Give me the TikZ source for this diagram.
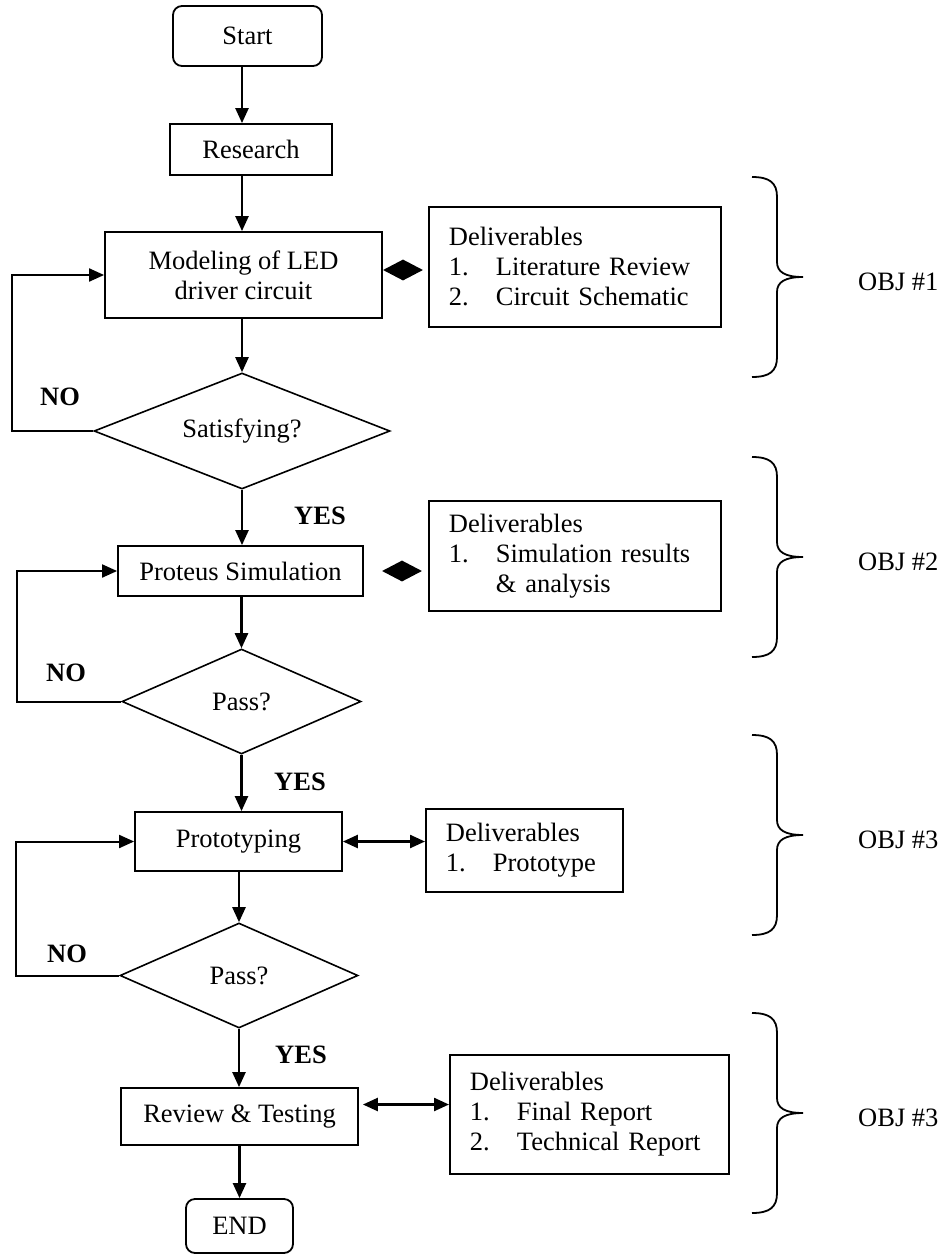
\documentclass[tikz,border=0pt]{standalone}
\usepackage{fontspec}
\setmainfont{Liberation Serif}
\usetikzlibrary{shapes.geometric,arrows.meta}
\begin{document}
\begin{tikzpicture}[x=1pt,y=-1pt,
  every node/.style={font=\fontsize{26.5}{30}\selectfont},
  box/.style={draw, line width=1.8pt, inner sep=0pt, align=center},
  rbox/.style={box, rounded corners=9pt},
  dec/.style={draw, diamond, line width=1.6pt, inner sep=0pt, aspect=2.5},
  deliv/.style={draw, line width=1.8pt, align=left, inner xsep=20pt, inner ysep=0pt, anchor=north west},
  arr/.style={line width=2.4pt, -{Triangle[length=15pt,width=13pt]}},
  darr/.style={line width=2.4pt, {Triangle[length=15pt,width=13pt]}-{Triangle[length=15pt,width=13pt]}},
  loopline/.style={line width=2pt, -{Triangle[length=15pt,width=13pt]}},
  lbl/.style={font=\fontsize{26.5}{30}\selectfont\bfseries, inner sep=0pt},
  objlbl/.style={anchor=west, inner sep=0pt},
  knot/.style={diamond, fill=black, inner sep=0pt, minimum width=40pt, minimum height=21pt, aspect=2},
  objbrace/.pic={
    \draw[line width=1.8pt] (-51,-100) .. controls (-33,-100) and (-26,-94) .. (-26,-80)
      -- (-26,-15) .. controls (-26,-5) and (-18,0) .. (0,0)
      .. controls (-18,0) and (-26,5) .. (-26,15)
      -- (-26,80) .. controls (-26,94) and (-33,100) .. (-51,100);
  }
]
\useasboundingbox (0,0) rectangle (947,1254);

% main flow
\node[rbox, minimum width=149pt, minimum height=60pt] (start) at (247.5,36) {Start};
\node[box, minimum width=162pt, minimum height=51pt] (research) at (251,149.5) {Research};
\node[box, minimum width=277pt, minimum height=86pt] (model) at (243.5,275) {Modeling of LED\\driver circuit};
\node[dec, minimum width=296pt, minimum height=116pt] (satis) at (242,431) {Satisfying?};
\node[box, minimum width=245pt, minimum height=50pt] (proteus) at (240.5,571) {Proteus Simulation};
\node[dec, minimum width=239pt, minimum height=105pt] (pass1) at (241.5,701.5) {Pass?};
\node[box, minimum width=207pt, minimum height=59pt] (proto) at (238.5,841.5) {Prototyping};
\node[dec, minimum width=238pt, minimum height=105pt] (pass2) at (239,975.5) {Pass?};
\node[box, minimum width=237pt, minimum height=57pt] (review) at (239.5,1116.5) {Review \& Testing};
\node[rbox, minimum width=107pt, minimum height=54pt] (fin) at (239.5,1226) {END};

% deliverables
\node[deliv, text width=252pt, minimum height=120pt] (d1) at (428,206)
  {Deliverables\\\makebox[47pt][l]{1.}Literature Review\\\makebox[47pt][l]{2.}Circuit Schematic};
\node[deliv, text width=252pt, minimum height=110pt] (d2) at (428,500)
  {Deliverables\\\makebox[47pt][l]{1.}Simulation results\\\hspace*{47pt}\& analysis};
\node[deliv, text width=157pt, minimum height=83pt] (d3) at (425,808)
  {Deliverables\\\makebox[47pt][l]{1.}Prototype};
\node[deliv, text width=239pt, minimum height=119pt] (d4) at (449,1054)
  {Deliverables\\\makebox[47pt][l]{1.}Final Report\\\makebox[47pt][l]{2.}Technical Report};

% diamond joints
\node[knot] (k1) at (403,270) {};
\node[knot] (k2) at (402,571) {};

% labels
\node[lbl] (yes1) at (320,516) {YES};
\node[lbl] (yes2) at (300,782) {YES};
\node[lbl] (yes3) at (301,1055) {YES};
\node[lbl] (no1) at (60,397) {NO};
\node[lbl] (no2) at (66,673) {NO};
\node[lbl] (no3) at (67,954) {NO};

% spine arrows
\coordinate (spine) at (242,0);
\draw[arr] (start.south -| spine) -- (research.north -| spine);
\draw[arr] (research.south -| spine) -- (model.north -| spine);
\draw[arr] (model.south -| satis.north) -- (satis.north);
\draw[arr] (satis.south) -- (proteus.north -| satis.south);
\draw[arr] (proteus.south -| pass1.north) -- (pass1.north);
\draw[arr] (pass1.south) -- (proto.north -| pass1.south);
\draw[arr] (proto.south -| pass2.north) -- (pass2.north);
\draw[arr] (pass2.south) -- (review.north -| pass2.south);
\draw[arr] (review.south -| fin.north) -- (fin.north);

% loops back
\coordinate (l1) at (12,0);
\coordinate (l2) at (17,0);
\coordinate (l3) at (16,0);
\draw[loopline] (satis.west) -- (satis.west -| l1) -- (model.west -| l1) -- (model.west);
\draw[loopline] (pass1.west) -- (pass1.west -| l2) -- (proteus.west -| l2) -- (proteus.west);
\draw[loopline] (pass2.west) -- (pass2.west -| l3) -- (proto.west -| l3) -- (proto.west);

% double arrows
\draw[darr] (proto.east) -- (proto.east -| d3.west);
\coordinate (ra) at ([xshift=4pt,yshift=12pt]review.east);
\draw[darr] (ra) -- (ra -| d4.west);

% braces and objectives
\pic at (803,277) {objbrace};
\pic at (803,557) {objbrace};
\pic at (803,835) {objbrace};
\pic at (803,1113) {objbrace};
\node[objlbl] (o1) at (858,282) {OBJ \#1};
\node[objlbl] (o2) at (858,562) {OBJ \#2};
\node[objlbl] (o3) at (858,840) {OBJ \#3};
\node[objlbl] (o4) at (858,1118) {OBJ \#3};
\end{tikzpicture}
\end{document}
